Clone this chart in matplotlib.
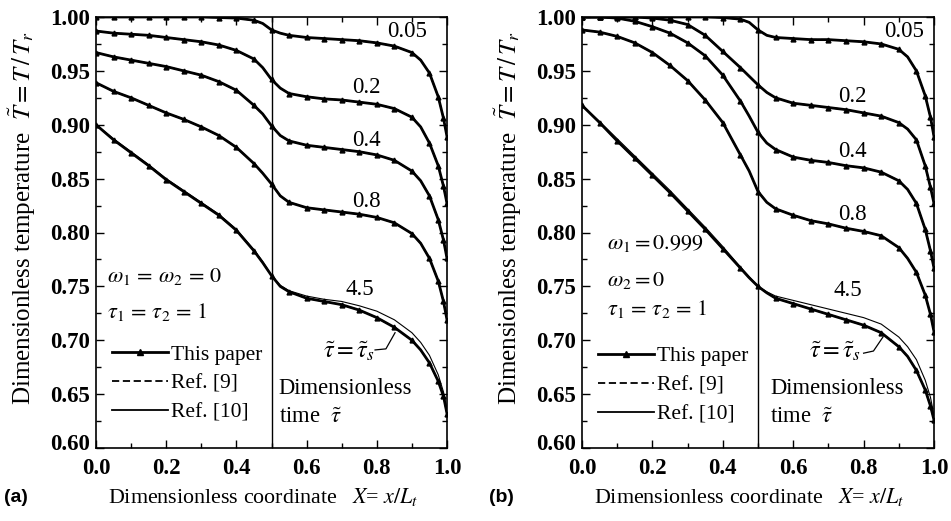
import matplotlib
matplotlib.use("Agg")
import matplotlib.pyplot as plt
import matplotlib.transforms as mtransforms
from matplotlib.lines import Line2D
from matplotlib.ticker import MultipleLocator, FormatStrFormatter

plt.rcParams['font.family'] = ['Liberation Serif', 'DejaVu Serif']
plt.rcParams['mathtext.fontset'] = 'stix'

# grid of dimensionless coordinate X (shared by every curve)
X = [0.0, 0.05, 0.10, 0.15, 0.20, 0.25, 0.30, 0.35, 0.40, 0.45, 0.475, 0.50, 0.525,
     0.55, 0.60, 0.65, 0.70, 0.75, 0.80, 0.85, 0.90, 0.925, 0.95, 0.975, 0.99, 1.0]

times = ["0.05", "0.2", "0.4", "0.8", "4.5"]

# (a) omega1 = omega2 = 0 -- this paper / Ref. [9]
a_t005 = [1.000, 1.000, 1.000, 1.000, 1.000, 1.000, 1.000, 0.9995, 0.999, 0.997, 0.994, 0.988, 0.985,
          0.983, 0.981, 0.980, 0.979, 0.978, 0.976, 0.973, 0.967, 0.960, 0.948, 0.926, 0.906, 0.889]
a_t02 = [0.987, 0.985, 0.984, 0.983, 0.981, 0.979, 0.977, 0.974, 0.969, 0.961, 0.953, 0.942, 0.934,
         0.929, 0.926, 0.924, 0.923, 0.921, 0.919, 0.915, 0.907, 0.898, 0.883, 0.862, 0.843, 0.827]
a_t04 = [0.967, 0.963, 0.960, 0.957, 0.954, 0.950, 0.946, 0.940, 0.932, 0.918, 0.910, 0.899, 0.890,
         0.885, 0.881, 0.879, 0.877, 0.875, 0.872, 0.867, 0.857, 0.848, 0.834, 0.812, 0.793, 0.776]
a_t08 = [0.939, 0.931, 0.925, 0.918, 0.911, 0.905, 0.898, 0.890, 0.879, 0.864, 0.855, 0.845, 0.834,
         0.828, 0.823, 0.821, 0.819, 0.817, 0.814, 0.809, 0.799, 0.790, 0.776, 0.755, 0.736, 0.719]
a_t45 = [0.900, 0.886, 0.874, 0.862, 0.849, 0.838, 0.827, 0.816, 0.802, 0.783, 0.772, 0.760, 0.750,
         0.745, 0.739, 0.736, 0.733, 0.728, 0.721, 0.712, 0.700, 0.691, 0.679, 0.662, 0.648, 0.632]
# Ref. [10] steady state differs slightly
a_t45_ref10 = [0.900, 0.887, 0.875, 0.863, 0.850, 0.839, 0.828, 0.817, 0.803, 0.784, 0.773, 0.760, 0.751,
               0.746, 0.741, 0.738, 0.736, 0.732, 0.727, 0.719, 0.707, 0.698, 0.686, 0.668, 0.652, 0.635]

# (b) omega1 = 0.999, omega2 = 0
b_t005 = [1.000, 1.000, 1.000, 1.000, 1.000, 1.000, 1.000, 1.000, 0.9995, 0.998, 0.995, 0.988, 0.983,
          0.981, 0.980, 0.979, 0.979, 0.978, 0.977, 0.975, 0.970, 0.963, 0.950, 0.927, 0.907, 0.889]
b_t02 = [1.000, 1.000, 1.000, 1.000, 0.999, 0.997, 0.993, 0.983, 0.968, 0.953, 0.945, 0.937, 0.930,
         0.925, 0.920, 0.918, 0.916, 0.914, 0.911, 0.908, 0.902, 0.896, 0.886, 0.862, 0.842, 0.827]
b_t04 = [1.000, 1.000, 0.999, 0.996, 0.991, 0.985, 0.976, 0.964, 0.946, 0.922, 0.908, 0.893, 0.883,
         0.877, 0.870, 0.867, 0.865, 0.862, 0.860, 0.856, 0.848, 0.840, 0.827, 0.803, 0.783, 0.767]
b_t08 = [0.988, 0.986, 0.982, 0.976, 0.967, 0.955, 0.941, 0.923, 0.902, 0.872, 0.857, 0.838, 0.828,
         0.822, 0.816, 0.811, 0.808, 0.804, 0.801, 0.797, 0.786, 0.776, 0.763, 0.742, 0.724, 0.708]
b_t45 = [0.918, 0.902, 0.885, 0.869, 0.853, 0.837, 0.820, 0.803, 0.785, 0.767, 0.758, 0.750, 0.744,
         0.739, 0.734, 0.729, 0.724, 0.719, 0.714, 0.707, 0.694, 0.685, 0.672, 0.654, 0.639, 0.626]
b_t45_ref10 = [0.918, 0.903, 0.887, 0.871, 0.855, 0.839, 0.822, 0.805, 0.787, 0.768, 0.759, 0.750, 0.745,
               0.741, 0.737, 0.733, 0.729, 0.725, 0.721, 0.715, 0.703, 0.694, 0.682, 0.663, 0.647, 0.630]

x_ticks = [0.0, 0.2, 0.4, 0.6, 0.8, 1.0]
y_ticks = [0.60, 0.65, 0.70, 0.75, 0.80, 0.85, 0.90, 0.95, 1.00]

# markers only on the 0.05 grid and near the wall
mark_idx = [i for i, x in enumerate(X) if x not in (0.475, 0.525, 0.925)]

W, H = 951, 521


def draw_panel(fig, ax, curves, ref10, labels_xy, tau_xy, leader, texts, text_x, leg_y):
    for ys in curves:
        ax.plot(X, ys, color='black', lw=0.8, zorder=2)                 # Ref. [10]
        ax.plot(X, ys, color='black', lw=1.1, ls=(0, (5, 3)), zorder=2)  # Ref. [9]
        ax.plot(X, ys, color='black', lw=2.0, marker='^', ms=3.5,
                markevery=mark_idx, zorder=3)
    # Ref. [10] steady curve deviates visibly
    ax.plot(X, ref10, color='black', lw=0.8, zorder=2)

    ax.axvline(0.5, color='black', lw=1.0)

    for t, (tx, ty) in zip(times, labels_xy):
        ax.text(tx, ty, t, fontsize=16.5, ha='center', va='center')

    ax.text(tau_xy[0], tau_xy[1], r'$\tilde{\tau} = \tilde{\tau}_s$', fontsize=17.5,
            ha='center', va='center')
    ax.plot(leader[0], leader[1], color='black', lw=0.9)

    ax.text(text_x, 0.655, 'Dimensionless', fontsize=16.3, ha='left', va='center')
    ax.text(text_x, 0.628, r'time  $\tilde{\tau}$', fontsize=16.3, ha='left', va='center')

    for (px, py, s) in texts:
        ax.text(px, py, s, fontsize=16, ha='left', va='center')

    handles = [
        Line2D([], [], color='black', lw=2.0, marker='^', ms=4),
        Line2D([], [], color='black', lw=1.3, ls=(0, (4, 2))),
        Line2D([], [], color='black', lw=1.3),
    ]
    ax.legend(handles, ['This paper', 'Ref. [9]', 'Ref. [10]'], loc='upper left',
              bbox_to_anchor=(0.045, leg_y), frameon=False, fontsize=15.5,
              handlelength=2.6, handletextpad=0.15, labelspacing=0.42,
              borderpad=0, borderaxespad=0, numpoints=1)

    ax.set_xlim(0, 1)
    ax.set_ylim(0.6, 1.0)
    ax.set_xticks(x_ticks)
    ax.set_yticks(y_ticks)
    ax.xaxis.set_minor_locator(MultipleLocator(0.1))
    ax.yaxis.set_minor_locator(MultipleLocator(0.025))
    ax.xaxis.set_major_formatter(FormatStrFormatter('%.1f'))
    ax.yaxis.set_major_formatter(FormatStrFormatter('%.2f'))
    ax.tick_params(which='both', direction='in', top=True, right=True, width=1.0)
    ax.tick_params(which='major', length=6, labelsize=16.5, pad=4)
    ax.tick_params(axis='x', which='major', pad=7)
    ax.tick_params(which='minor', length=3.5)
    for lab in ax.get_xticklabels() + ax.get_yticklabels():
        lab.set_fontweight('bold')
    # the 0.60 label sits a little above the corner, as in the original
    lowest = ax.yaxis.get_major_ticks()[0].label1
    lowest.set_transform(lowest.get_transform() +
                         mtransforms.ScaledTranslation(0, 4 / 72, fig.dpi_scale_trans))
    for sp in ax.spines.values():
        sp.set_linewidth(1.2)


fig = plt.figure(figsize=(W / 100, H / 100), dpi=100)
ax_a = fig.add_axes([96 / W, 1 - 448 / H, 351 / W, 431 / H])
ax_b = fig.add_axes([582 / W, 1 - 448 / H, 352 / W, 431 / H])

draw_panel(fig, ax_a, [a_t005, a_t02, a_t04, a_t08, a_t45], a_t45_ref10,
           [(0.885, 0.987), (0.77, 0.935), (0.77, 0.885), (0.77, 0.829), (0.752, 0.747)],
           (0.72, 0.690), ([0.795, 0.826, 0.852], [0.691, 0.692, 0.707]),
           [(0.03, 0.759, r'$\omega_1\,=\,\omega_2\,=\,0$'),
            (0.03, 0.726, r'$\tau_1\,=\,\tau_2\,=\,1$')], 0.52, 0.24)

draw_panel(fig, ax_b, [b_t005, b_t02, b_t04, b_t08, b_t45], b_t45_ref10,
           [(0.915, 0.987), (0.767, 0.926), (0.767, 0.875), (0.767, 0.817), (0.756, 0.746)],
           (0.72, 0.690), ([0.80, 0.828, 0.855], [0.688, 0.690, 0.703]),
           [(0.07, 0.790, r'$\omega_1 = 0.999$'),
            (0.07, 0.755, r'$\omega_2 = 0$'),
            (0.07, 0.729, r'$\tau_1\,=\,\tau_2\,=\,1$')], 0.535, 0.236)

ylabel = r'Dimensionless temperature  $\tilde{T} = T\,/\,T_r$'
xlabel = r'Dimensionless coordinate   $X$= $x/L_t$'
fig.text(22 / W, 1 - 218 / H, ylabel, rotation=90, fontsize=18, ha='center', va='center')
fig.text(508 / W, 1 - 218 / H, ylabel, rotation=90, fontsize=18, ha='center', va='center')
fig.text(263 / W, 1 - 497 / H, xlabel, fontsize=15.8, ha='center', va='center')
fig.text(749 / W, 1 - 497 / H, xlabel, fontsize=15.8, ha='center', va='center')
fig.text(4 / W, 1 - 498 / H, '(a)', fontsize=14, fontweight='bold', family='Liberation Sans',
         ha='left', va='center')
fig.text(489 / W, 1 - 498 / H, '(b)', fontsize=14, fontweight='bold', family='Liberation Sans',
         ha='left', va='center')

fig.savefig('out.png', dpi=100)
